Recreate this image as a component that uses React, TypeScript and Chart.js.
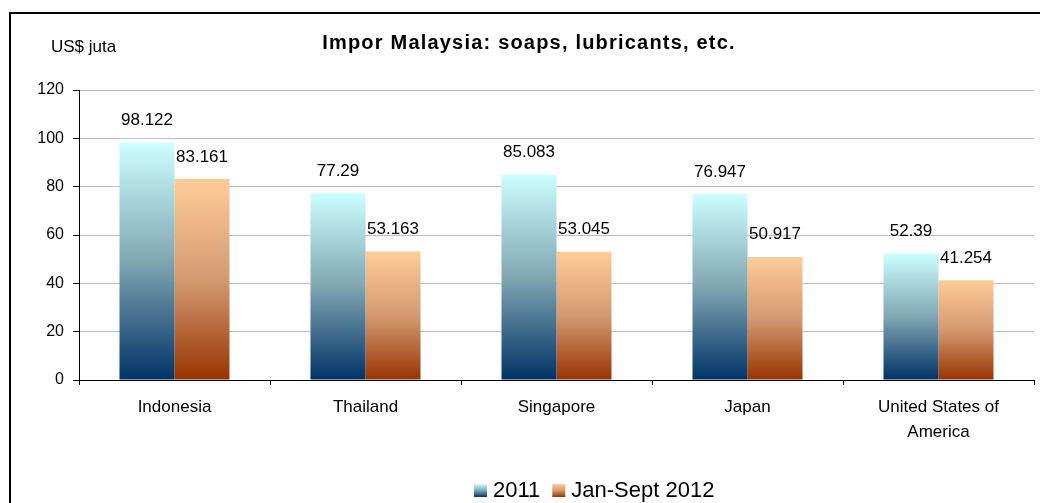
import React, { useEffect, useRef } from 'react';
import { Chart, registerables } from 'chart.js';

Chart.register(...registerables);

const categories: (string | string[])[] = ['Indonesia', 'Thailand', 'Singapore', 'Japan', ['United States of', 'America']];
const series2011 = [98.122, 77.29, 85.083, 76.947, 52.39];
const series2012 = [83.161, 53.163, 53.045, 50.917, 41.254];
const seriesLabels = ['2011', 'Jan-Sept 2012'];
const yTicks = [0, 20, 40, 60, 80, 100, 120];
const chartTitle = 'Impor Malaysia: soaps, lubricants, etc.';
const unitLabel = 'US$ juta';

const FONT = "'Liberation Sans', Arial, Helvetica, sans-serif";
const gradStops: [string, string, string][] = [
  ['#CCFFFF', '#80a6b2', '#003366'],
  ['#FFCC99', '#d39a72', '#993300'],
];

function addStops(g: CanvasGradient, i: number) {
  g.addColorStop(0, gradStops[i][0]);
  g.addColorStop(0.5, gradStops[i][1]);
  g.addColorStop(1, gradStops[i][2]);
  return g;
}

function barGradient(c: any, i: number) {
  const chart = c.chart;
  const y = chart.scales && chart.scales.y;
  if (!y || !chart.chartArea || c.type !== 'data') return gradStops[i][0];
  const top = y.getPixelForValue(c.raw);
  const bottom = y.getPixelForValue(0);
  if (!isFinite(top) || !isFinite(bottom) || top === bottom) return gradStops[i][0];
  return addStops(chart.ctx.createLinearGradient(0, top, 0, bottom), i);
}

const decor = {
  id: 'decor',
  beforeDraw(chart: any) {
    const ctx = chart.ctx;
    ctx.save();
    ctx.fillStyle = '#ffffff';
    ctx.fillRect(0, 0, chart.width, chart.height);
    ctx.strokeStyle = '#000000';
    ctx.lineWidth = 2;
    ctx.strokeRect(10, 13, chart.width + 50, chart.height + 50);
    ctx.restore();
  },
  afterDatasetsDraw(chart: any) {
    const ctx = chart.ctx;
    ctx.save();
    ctx.font = `17px ${FONT}`;
    ctx.fillStyle = '#000000';
    ctx.textAlign = 'center';
    ctx.textBaseline = 'alphabetic';
    chart.data.datasets.forEach((ds: any, di: number) => {
      const meta = chart.getDatasetMeta(di);
      meta.data.forEach((el: any, j: number) => {
        ctx.fillText(String(ds.data[j]), el.x, el.y - 17.5);
      });
    });
    ctx.restore();
  },
  afterDraw(chart: any) {
    const ctx = chart.ctx;
    ctx.save();
    ctx.fillStyle = '#000000';
    // title
    ctx.font = `bold 20px ${FONT}`;
    (ctx as any).letterSpacing = '1.2px';
    ctx.textAlign = 'center';
    ctx.textBaseline = 'alphabetic';
    ctx.fillText(chartTitle, 529, 49);
    (ctx as any).letterSpacing = '0px';
    // unit label
    ctx.font = `17px ${FONT}`;
    ctx.textAlign = 'left';
    ctx.fillText(unitLabel, 51, 52);
    // legend
    ctx.font = `22px ${FONT}`;
    let x = 474;
    const sqTop = 484;
    const sq = 13;
    seriesLabels.forEach((label, i) => {
      ctx.fillStyle = addStops(ctx.createLinearGradient(0, sqTop, 0, sqTop + sq), i);
      ctx.fillRect(x, sqTop, sq, sq);
      x += sq + 6;
      ctx.fillStyle = '#000000';
      ctx.fillText(label, x, 497);
      x += ctx.measureText(label).width + 12;
    });
    ctx.restore();
  },
};

export default function App() {
  const ref = useRef<HTMLCanvasElement | null>(null);
  useEffect(() => {
    if (!ref.current) return;
    const chart = new Chart(ref.current, {
      type: 'bar',
      data: {
        labels: categories as any,
        datasets: [
          {
            label: seriesLabels[0],
            data: series2011,
            backgroundColor: (c: any) => barGradient(c, 0),
            borderWidth: 0,
            barPercentage: 1,
            categoryPercentage: 0.576,
          },
          {
            label: seriesLabels[1],
            data: series2012,
            backgroundColor: (c: any) => barGradient(c, 1),
            borderWidth: 0,
            barPercentage: 1,
            categoryPercentage: 0.576,
          },
        ],
      },
      options: {
        responsive: false,
        animation: false,
        devicePixelRatio: 1,
        layout: { padding: { top: 90, right: 6, left: 0, bottom: 0 } },
        plugins: {
          legend: { display: false },
          title: { display: false },
          tooltip: { enabled: false },
        },
        scales: {
          x: {
            offset: true,
            grid: {
              display: true,
              offset: true,
              drawOnChartArea: false,
              drawTicks: true,
              tickLength: 5,
              tickColor: '#000000',
              color: '#000000',
            },
            border: { display: true, color: '#000000', width: 1 },
            ticks: {
              color: '#000000',
              font: { family: FONT, size: 17, lineHeight: 25 / 17 },
              padding: 10,
              maxRotation: 0,
              autoSkip: false,
            },
            afterFit(scale: any) {
              scale.height = 123;
            },
          },
          y: {
            min: 0,
            max: 120,
            grid: {
              color: '#bfbfbf',
              tickColor: '#000000',
              tickLength: 6,
              drawTicks: true,
            },
            border: { display: true, color: '#000000', width: 1 },
            ticks: {
              color: '#000000',
              font: { family: FONT, size: 16 },
              padding: 9,
              stepSize: 20,
            },
            afterBuildTicks(scale: any) {
              scale.ticks = yTicks.map((v) => ({ value: v }));
            },
            afterFit(scale: any) {
              scale.width = 79;
            },
          },
        },
      },
      plugins: [decor],
    } as any);
    return () => chart.destroy();
  }, []);
  return (
    <div style={{ position: 'fixed', left: 0, top: 0, width: 1040, height: 503, overflow: 'hidden', background: '#fff' }}>
      <canvas ref={ref} width={1040} height={503} style={{ display: 'block', width: 1040, height: 503 }} />
    </div>
  );
}
